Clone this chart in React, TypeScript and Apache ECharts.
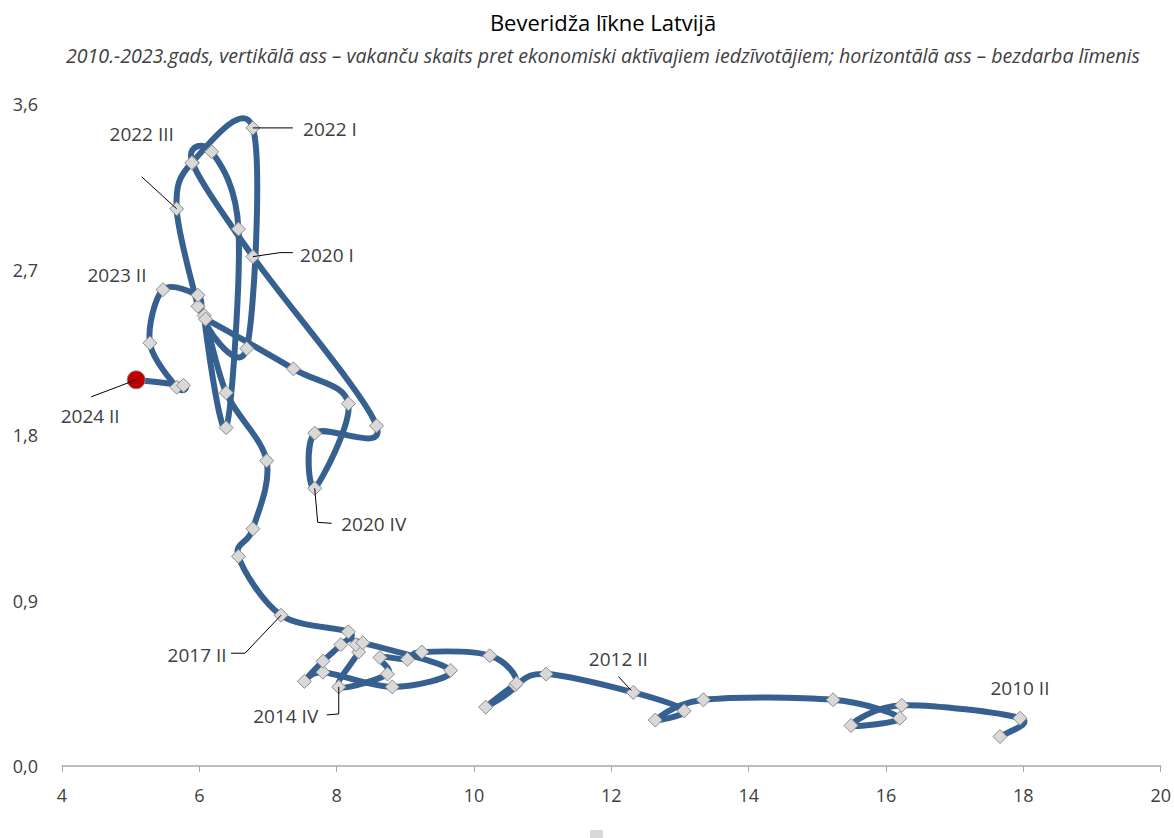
import React, { useEffect, useRef } from "react";
import * as echarts from "echarts";

// Beveridge curve, Latvia: unemployment rate (x) vs vacancies / economically active (y)
const unemployment = [
  17.66, 17.95, 16.23, 15.49, 16.2, 15.23, 13.34, 12.64, 13.06, 12.32,
  11.05, 10.6, 10.17, 10.62, 10.23, 9.24, 9.03, 8.63, 8.74, 8.03,
  8.32, 8.28, 8.38, 9.66, 8.81, 7.8, 7.53, 7.8, 8.06, 8.17,
  7.19, 6.57, 6.78, 6.98, 6.39, 6.07, 6.39, 6.57, 6.18, 5.9,
  6.78, 8.58, 7.68, 7.68, 8.17, 7.37, 6.09, 6.69, 6.78, 5.89,
  5.67, 5.98, 5.98, 5.47, 5.28, 5.67, 5.77, 5.08,
];
const vacancies = [
  0.16, 0.26, 0.33, 0.22, 0.26, 0.36, 0.36, 0.25, 0.3, 0.4,
  0.5, 0.44, 0.32, 0.45, 0.6, 0.62, 0.58, 0.59, 0.5, 0.43,
  0.62, 0.66, 0.67, 0.52, 0.43, 0.51, 0.46, 0.57, 0.66, 0.73,
  0.82, 1.14, 1.29, 1.66, 2.03, 2.45, 1.84, 2.92, 3.34, 3.28,
  2.77, 1.85, 1.81, 1.51, 1.97, 2.16, 2.43, 2.27, 3.47, 3.28,
  3.03, 2.5, 2.56, 2.59, 2.3, 2.06, 2.07, 2.1,
];
const pointLabels = [
  "", "2010 II", "", "", "", "", "", "", "", "2012 II",
  "", "", "", "", "", "", "", "", "", "2014 IV",
  "", "", "", "", "", "", "", "", "", "",
  "2017 II", "", "", "", "", "", "", "", "", "",
  "2020 I", "", "", "2020 IV", "", "", "", "", "2022 I", "",
  "2022 III", "", "", "2023 II", "", "", "", "2024 II",
];
const xAxisRange = { min: 4, max: 20, interval: 2 };
const yAxisRange = { min: 0, max: 3.6, interval: 0.9 };

const TITLE = "Beveridža līkne Latvijā";
const SUBTITLE =
  "2010.-2023.gads, vertikālā ass – vakanču skaits pret ekonomiski aktīvajiem iedzīvotājiem; horizontālā ass – bezdarba līmenis";

// annotation placement (pixels relative to the point)
const labelPlacement: Record<string, { offset: number[]; leader?: number[][] }> = {
  "2010 II": { offset: [0, -30] },
  "2012 II": { offset: [-15, -33], leader: [[-15, -16], [-2, -2]] },
  "2014 IV": { offset: [-53, 29], leader: [[0, 0], [0, 27], [-12, 28]] },
  "2017 II": { offset: [-84, 40], leader: [[-50, 38], [-36, 38], [0, 0]] },
  "2020 I": { offset: [74, -2], leader: [[40, -4], [27, -4], [0, 0]] },
  "2020 IV": { offset: [59, 36], leader: [[0, 0], [3, 34], [17, 35]] },
  "2022 I": { offset: [77, 1], leader: [[0, 0], [40, 0]] },
  "2022 III": { offset: [-35, -75], leader: [[-35, -32], [0, 0]] },
  "2023 II": { offset: [-46, -15] },
  "2024 II": { offset: [-46, 36], leader: [[-45, 17], [0, 0]] },
};

const FONT = "'Open Sans', 'Noto Sans', sans-serif";
const LINE_COLOR = "#36608F";
const TEXT_COLOR = "#404040";
const TENSION = 1 / 6;

export default function App() {
  const ref = useRef<HTMLDivElement>(null);

  useEffect(() => {
    if (!ref.current) return;
    const chart = echarts.init(ref.current, null, { renderer: "svg" });
    const n = unemployment.length;
    const last = n - 1;

    const pairs = unemployment.map((x, i) => [x, vacancies[i]]);

    const markerData = pairs.map((v, i) => {
      const item: any = { value: v };
      const lbl = pointLabels[i];
      if (lbl) {
        const pl = labelPlacement[lbl];
        item.label = {
          show: true,
          formatter: lbl,
          position: "inside",
          offset: pl.offset,
          color: TEXT_COLOR,
          fontSize: 19,
          fontFamily: FONT,
        };
      }
      if (i === last) {
        item.symbol = "circle";
        item.symbolSize = 18;
        item.itemStyle = { color: "#C00000", borderColor: "#8C8C8C", borderWidth: 1 };
      }
      return item;
    });

    // smooth (Catmull-Rom style) curve segment between point i and i+1
    const renderSegment = (params: any, api: any) => {
      const i = params.dataIndex;
      if (i >= n - 1) return null;
      const c = (j: number) => {
        const k = Math.max(0, Math.min(n - 1, j));
        return api.coord(pairs[k]);
      };
      const p0 = c(i - 1);
      const p1 = c(i);
      const p2 = c(i + 1);
      const p3 = c(i + 2);
      return {
        type: "bezierCurve",
        shape: {
          x1: p1[0],
          y1: p1[1],
          x2: p2[0],
          y2: p2[1],
          cpx1: p1[0] + (p2[0] - p0[0]) * TENSION,
          cpy1: p1[1] + (p2[1] - p0[1]) * TENSION,
          cpx2: p2[0] - (p3[0] - p1[0]) * TENSION,
          cpy2: p2[1] - (p3[1] - p1[1]) * TENSION,
        },
        style: { stroke: LINE_COLOR, lineWidth: 6, fill: "none", lineCap: "round" },
        silent: true,
      };
    };

    chart.setOption({
      animation: false,
      textStyle: { fontFamily: FONT },
      title: [
        {
          text: TITLE,
          left: 598,
          top: 6,
          textAlign: "center",
          textStyle: { fontSize: 22, fontWeight: "normal", color: "#000", fontFamily: FONT },
        },
        {
          text: SUBTITLE,
          left: 598,
          top: 40,
          textAlign: "center",
          textStyle: {
            fontSize: 19.6,
            fontStyle: "italic",
            fontWeight: "normal",
            color: TEXT_COLOR,
            fontFamily: FONT,
          },
        },
      ],
      grid: { left: 62, right: 12, top: 104, bottom: 72, containLabel: false },
      xAxis: {
        type: "value",
        min: xAxisRange.min,
        max: xAxisRange.max,
        interval: xAxisRange.interval,
        axisLine: { show: true, lineStyle: { color: "#A6A6A6", width: 1.5 } },
        axisTick: { show: true, inside: false, length: 6, lineStyle: { color: "#A6A6A6" } },
        splitLine: { show: false },
        axisLabel: { color: TEXT_COLOR, fontSize: 18, margin: 20, fontFamily: FONT },
      },
      yAxis: {
        type: "value",
        min: yAxisRange.min,
        max: yAxisRange.max,
        interval: yAxisRange.interval,
        axisLine: { show: false },
        axisTick: { show: false },
        splitLine: { show: false },
        axisLabel: {
          color: TEXT_COLOR,
          fontSize: 18,
          margin: 24,
          fontFamily: FONT,
          formatter: (v: number) => v.toFixed(1).replace(".", ","),
        },
      },
      series: [
        {
          type: "custom",
          data: pairs,
          renderItem: renderSegment,
          clip: false,
          z: 2,
          emphasis: { disabled: true },
        },
        {
          type: "scatter",
          data: markerData,
          symbol: "diamond",
          symbolSize: 14,
          itemStyle: { color: "#D9D9D9", borderColor: "#8C8C8C", borderWidth: 1, opacity: 1 },
          emphasis: { disabled: true },
          z: 3,
        },
      ],
    });

    const leaders: any[] = [];
    pointLabels.forEach((lbl, i) => {
      if (!lbl) return;
      const pl = labelPlacement[lbl];
      if (!pl.leader) return;
      const p = chart.convertToPixel({ seriesIndex: 1 }, pairs[i]) as number[];
      leaders.push({
        type: "polyline",
        silent: true,
        z: 10,
        shape: { points: pl.leader.map(([dx, dy]) => [p[0] + dx, p[1] + dy]) },
        style: { stroke: "#000", lineWidth: 1, fill: null },
      });
    });
    leaders.push({
      type: "rect",
      silent: true,
      shape: { x: 590, y: 830, width: 13, height: 8 },
      style: { fill: "#D9D9D9" },
    });
    chart.setOption({ graphic: leaders });

    return () => chart.dispose();
  }, []);

  return (
    <div
      ref={ref}
      style={{ position: "fixed", left: 0, top: 0, width: 1174, height: 838, background: "#fff" }}
    />
  );
}
